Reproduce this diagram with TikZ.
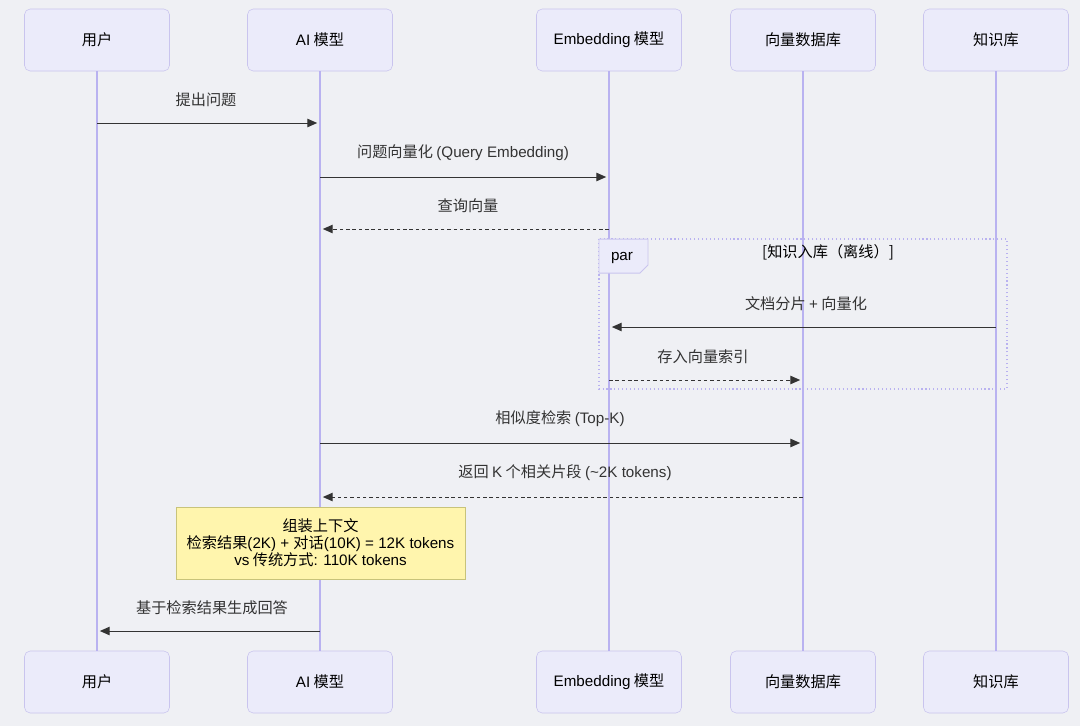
\documentclass[tikz,border=0pt]{standalone}
\usepackage{fontspec}
\setmainfont{Noto Sans CJK SC}
\newfontfamily\latf{Liberation Sans}
\usetikzlibrary{arrows.meta,positioning,calc}
\definecolor{bgcol}{HTML}{EFF0F4}
\definecolor{actfill}{HTML}{EBEBFA}
\definecolor{actline}{HTML}{C9C4EE}
\definecolor{lifecol}{HTML}{B9B2F0}
\definecolor{inkcol}{HTML}{333333}
\definecolor{notefill}{HTML}{FFF5AD}
\definecolor{noteline}{HTML}{C8C37A}

\begin{document}
\begin{tikzpicture}[x=0.025cm, y=-0.025cm,
  actor/.style={draw=actline, fill=actfill, rounded corners=4pt, minimum width=145*0.025cm,
                minimum height=62*0.025cm, font=\fontsize{10.8}{13}\selectfont, text=black},
  lifeline/.style={draw=lifecol, line width=0.9pt},
  msg/.style={-{Triangle[length=7pt,width=6pt]}, draw=inkcol, line width=0.7pt, shorten >=2pt},
  reply/.style={msg, dash pattern=on 2.5pt off 2pt},
  lbl/.style={font=\fontsize{10.8}{13}\selectfont, text=inkcol},
  note/.style={draw=noteline, fill=notefill, align=center, inner sep=0pt,
               minimum width=289*0.025cm, minimum height=72*0.025cm,
               font=\fontsize{10.8}{12.2}\selectfont, text=black}
]
% background and size
\fill[bgcol] (0,0) rectangle (1080,726);
\useasboundingbox (0,0) rectangle (1080,726);

% Actors, top and bottom
\node[actor] (user)  at (97,40)  {用户};
\node[actor] (ai)    at (320,40) {{\latf AI} 模型};
\node[actor] (emb)   at (609,40) {{\latf Embedding} 模型};
\node[actor] (vdb)   at (803,40) {向量数据库};
\node[actor] (kb)    at (996,40) {知识库};
\node[actor] (userB) at (97,682)  {用户};
\node[actor] (aiB)   at (320,682) {{\latf AI} 模型};
\node[actor] (embB)  at (609,682) {{\latf Embedding} 模型};
\node[actor] (vdbB)  at (803,682) {向量数据库};
\node[actor] (kbB)   at (996,682) {知识库};

% Lifelines
\foreach \a in {user, ai, emb, vdb, kb}
  \draw[lifeline] (\a.south) -- (\a B.north);

% par frame
\draw[draw=lifecol, line width=0.8pt, dotted] (599,239) rectangle (1007,389);
\draw[draw=actline, fill=actfill, line width=0.7pt]
  (599,239) -- (648,239) -- (648,265) -- (640,273) -- (599,273) -- cycle;
\node[lbl, text=black] (partag) at (622,258) {\latf par};
\node[lbl, text=black] (partitle) at (828,252) {[知识入库（离线）]};

% Messages
\coordinate (m1a) at (user |- 0,123);  \coordinate (m1b) at (ai |- 0,123);
\draw[msg] (m1a) -- (m1b);
\node[lbl] (t1) at (206,100) {提出问题};

\coordinate (m2a) at (ai |- 0,177);  \coordinate (m2b) at (emb |- 0,177);
\draw[msg] (m2a) -- (m2b);
\node[lbl] (t2) at (463,153) {问题向量化 {\latf (Query Embedding)}};

\coordinate (m3a) at (emb |- 0,229);  \coordinate (m3b) at (ai |- 0,229);
\draw[reply] (m3a) -- (m3b);
\node[lbl] (t3) at (468,206) {查询向量};

\coordinate (m4a) at (kb |- 0,327);  \coordinate (m4b) at (emb |- 0,327);
\draw[msg] (m4a) -- (m4b);
\node[lbl] (t4) at (806,304) {文档分片 {\latf +} 向量化};

\coordinate (m5a) at (emb |- 0,380);  \coordinate (m5b) at (vdb |- 0,380);
\draw[reply] (m5a) -- (m5b);
\node[lbl] (t5) at (703,357) {存入向量索引};

\coordinate (m6a) at (ai |- 0,443);  \coordinate (m6b) at (vdb |- 0,443);
\draw[msg] (m6a) -- (m6b);
\node[lbl] (t6) at (560,419) {相似度检索 {\latf (Top-K)}};

\coordinate (m7a) at (vdb |- 0,497);  \coordinate (m7b) at (ai |- 0,497);
\draw[reply] (m7a) -- (m7b);
\node[lbl] (t7) at (565,473) {返回 {\latf K} 个相关片段 {\latf (\textasciitilde2K tokens)}};

% Note over AI
\node[note] (ctx) at (320.5,543) {组装上下文\\检索结果{\latf (2K) + }对话{\latf (10K) = 12K tokens}\\{\latf vs} 传统方式{\latf : 110K tokens}};

\coordinate (m8a) at (ai |- 0,631);  \coordinate (m8b) at (user |- 0,631);
\draw[msg] (m8a) -- (m8b);
\node[lbl] (t8) at (212,608) {基于检索结果生成回答};

\end{tikzpicture}
\end{document}
